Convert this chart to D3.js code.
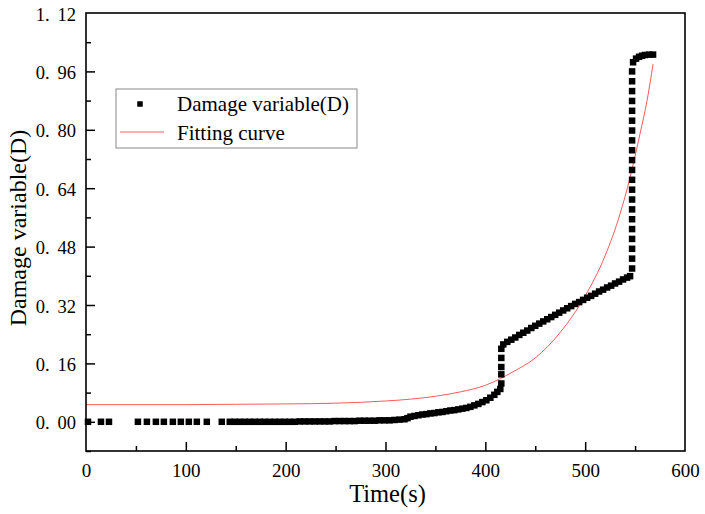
<!DOCTYPE html>
<html><head><meta charset="utf-8">
<script src="https://cdn.jsdelivr.net/npm/d3@7"></script>
<style>body{margin:0;background:#fff}svg{display:block}text{font-family:"Liberation Serif","DejaVu Serif",serif;fill:#000}</style>
</head><body><svg id="c" width="705" height="514"></svg>
<script>
// Damage variable (D) observed points
const damageTime = [2,15,23,52,61,70,78,87,95,103,111,121,136,
 144,149,154,159,164,169,174,179,184,189,194,199,204,209,214,219,224,229,234,239,244,249,254,259,264,269,274,279,284,289,294,299,304,309,314,319,
 322,325,329,333,337,341,345,349,353,357,361,365,369,373,377,381,385,389,393,397,401,405,409,412,415,
 416,416,416,416,416,
 418,422,426,430,434,438,442,446,450,454,458,462,466,470,474,478,482,486,490,494,498,502,506,510,514,518,522,526,530,534,538,542,545,
 547,547,547,547,547,547,547,547,547,547,547,547,547,547,547,547,547,547,547,547,547,
 548,551,554,557,560,564,568];
const damageValue = [0,0,0,0,0,0,0,0,0,0,0,0,0,
 0,0,0,0,0,0,0,0,0,0,0,0,0,0,0.001,0.001,0.001,0.001,0.001,0.001,0.001,0.002,0.002,0.002,0.002,0.002,0.003,0.003,0.003,0.003,0.004,0.004,0.004,0.005,0.006,0.007,
 0.010,0.014,0.016,0.018,0.020,0.021,0.023,0.024,0.026,0.027,0.029,0.031,0.032,0.034,0.036,0.038,0.041,0.045,0.049,0.054,0.059,0.066,0.074,0.082,0.090,
 0.105,0.130,0.150,0.175,0.200,
 0.212,0.219,0.225,0.231,0.238,0.244,0.250,0.257,0.263,0.269,0.275,0.281,0.287,0.293,0.299,0.305,0.311,0.317,0.323,0.328,0.334,0.340,0.345,0.351,0.357,0.362,0.368,0.373,0.379,0.384,0.390,0.395,0.399,
 0.420,0.447,0.474,0.501,0.528,0.555,0.582,0.609,0.636,0.663,0.690,0.717,0.744,0.771,0.798,0.825,0.852,0.879,0.906,0.933,0.960,
 0.985,0.995,1.000,1.003,1.005,1.006,1.006];
// Fitting curve
const fitTime = [0,50,100,150,200,250,300,325,350,375,400,415,425,450,475,500,520,535,545,555,562,568];
const fitValue = [0.047,0.047,0.047,0.048,0.049,0.051,0.057,0.062,0.070,0.082,0.100,0.118,0.133,0.175,0.245,0.345,0.455,0.570,0.670,0.790,0.880,0.980];
const xTicks = [0,100,200,300,400,500,600];
const xMinorTicks = [50,150,250,350,450,550];
const yTicks = [0,0.16,0.32,0.48,0.64,0.80,0.96,1.12];
const yMinorTicks = [-0.08,0.08,0.24,0.40,0.56,0.72,0.88,1.04];
const legendLabels = ["Damage variable(D)","Fitting curve"];

const svg = d3.select("#c");
const L=86,R=685,T=13,B=451;
const x = d3.scaleLinear().domain([0,600]).range([L,R]);
const y = d3.scaleLinear().domain([-0.08,1.12]).range([B,T]);

// fitting curve
svg.append("path").datum(fitTime.map((t,i)=>[t,fitValue[i]]))
 .attr("fill","none").attr("stroke","#ff5a5a").attr("stroke-width",1)
 .attr("d",d3.line().x(d=>x(d[0])).y(d=>y(d[1])).curve(d3.curveMonotoneX));

// damage markers
const ms=6.5;
svg.append("g").selectAll("rect").data(damageTime.map((t,i)=>[t,damageValue[i]])).join("rect")
 .attr("x",d=>x(d[0])-ms/2).attr("y",d=>y(d[1])-ms/2).attr("width",ms).attr("height",ms).attr("fill","#000");

// frame
svg.append("rect").attr("x",L).attr("y",T).attr("width",R-L).attr("height",B-T)
 .attr("fill","none").attr("stroke","#000").attr("stroke-width",1.6);

// bottom axis
const xa = svg.append("g").attr("transform",`translate(0,${B})`);
xa.call(d3.axisBottom(x).tickValues(xTicks).tickSize(-9).tickFormat(d3.format("d")))
 .call(g=>g.select(".domain").remove());
xa.selectAll("line").attr("stroke-width",1.5);
xa.selectAll("text").attr("font-size",19).attr("dy",null).attr("y",26).style("font-family","Liberation Serif");
xa.selectAll(".tick:first-of-type line, .tick:last-of-type line").remove();
svg.append("g").attr("transform",`translate(0,${B})`)
 .call(d3.axisBottom(x).tickValues(xMinorTicks).tickSize(-5).tickFormat(""))
 .call(g=>g.select(".domain").remove()).selectAll("line").attr("stroke-width",1.5);

// left axis
const ya = svg.append("g").attr("transform",`translate(${L},0)`);
ya.call(d3.axisLeft(y).tickValues(yTicks).tickSize(-9).tickFormat(""))
 .call(g=>g.select(".domain").remove());
ya.selectAll("line").attr("stroke-width",1.5);
ya.selectAll(".tick").filter(d=>d===1.12).select("line").remove();
ya.selectAll(".tick").append("text").attr("x",-10).attr("y",7).attr("text-anchor","end").attr("font-size",18.5)
 .each(function(d){
   const s=d3.format(".2f")(d).split(".");
   const t=d3.select(this);
   t.append("tspan").text(s[0]+".");
   t.append("tspan").attr("dx",8).text(s[1]);
 });
svg.append("g").attr("transform",`translate(${L},0)`)
 .call(d3.axisLeft(y).tickValues(yMinorTicks).tickSize(-5).tickFormat(""))
 .call(g=>g.select(".domain").remove()).selectAll("line").attr("stroke-width",1.5);

// axis titles
svg.append("text").attr("x",(L+R)/2+2).attr("y",502).attr("text-anchor","middle").attr("font-size",24.5).text("Time(s)");
svg.append("text").attr("transform",`translate(26,${(T+B)/2-4}) rotate(-90)`).attr("text-anchor","middle").attr("font-size",24).text("Damage variable(D)");

// legend
const lg = svg.append("g");
lg.append("rect").attr("x",116).attr("y",89).attr("width",241).attr("height",59).attr("fill","#fff").attr("stroke","#888").attr("stroke-width",1);
lg.append("rect").attr("x",140-2.75).attr("y",104-2.75).attr("width",5.5).attr("height",5.5).attr("fill","#000");
lg.append("line").attr("x1",120).attr("x2",164).attr("y1",132).attr("y2",132).attr("stroke","#ff5a5a").attr("stroke-width",1);
lg.append("text").attr("x",177).attr("y",111).attr("font-size",21).text(legendLabels[0]);
lg.append("text").attr("x",177).attr("y",140).attr("font-size",21).text(legendLabels[1]);
</script></body></html>
